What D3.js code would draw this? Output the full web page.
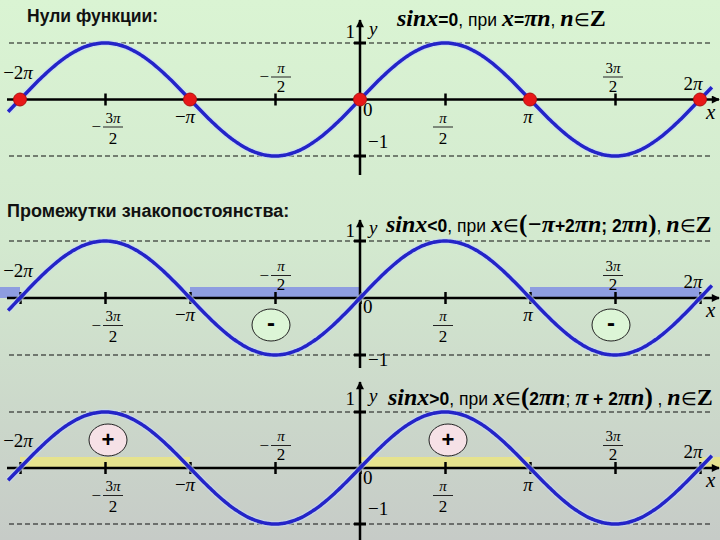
<!DOCTYPE html>
<html>
<head>
<meta charset="utf-8">
<script src="https://cdn.jsdelivr.net/npm/d3@7"></script>
<style>
body { margin: 0; }
svg { display: block; }
</style>
</head>
<body>
<div id="chart"></div>
<script>
var PI = Math.PI

// all x values are in units of pi
var tickValues = [-2, -1.5, -1, -0.5, 0, 0.5, 1, 1.5, 2]
var tickLabels = ["−2π", "−3π/2", "−π", "−π/2", "0", "π/2", "π", "3π/2", "2π"]
var zeros = [-2, -1, 0, 1, 2]
var negIntervals = [[-3, -2], [-1, 0], [1, 2]]
var posIntervals = [[-2, -1], [0, 1], [2, 3]]
var minusAt = [-0.5, 1.5]
var plusAt = [-1.5, 0.5]
var curveDomain = [-2.07, 2.07]
var titles = ["Нули функции:", "Промежутки знакопостоянства:", ""]

// formula pieces: [text, style]
var formula1 = [["sinx", "mi"], ["=0", "b"], [", при ", "s"], ["x", "mi"], ["=", "b"], ["πn", "mi"], [", ", "s"], ["n", "mi"], ["∈", "s"], ["Z", "mb"]]
var formula2 = [["sinx", "mi"], ["<0", "b"], [", при ", "s"], ["x", "mi"], ["∈", "s"], ["(", "p"], ["−π", "mi"], ["+2", "b"], ["πn", "mi"], ["; 2", "b"], ["πn", "mi"], [")", "p"], [", ", "s"], ["n", "mi"], ["∈", "s"], ["Z", "mb"]]
var formula3 = [["sinx", "mi"], [">0", "b"], [", при ", "s"], ["x", "mi"], ["∈", "s"], ["(", "p"], ["2", "b"], ["πn", "mi"], ["; ", "s"], ["π", "mi"], [" + 2", "b"], ["πn", "mi"], [")", "p"], [" , ", "s"], ["n", "mi"], ["∈", "s"], ["Z", "mb"]]

var width = 720, height = 540
var serif = "'Liberation Serif', 'Times New Roman', serif"
var sans = "'Liberation Sans', Arial, sans-serif"

var svg = d3.select("#chart").append("svg")
    .attr("width", width)
    .attr("height", height)

var defs = svg.append("defs")
var grad = defs.append("linearGradient").attr("id", "bg")
    .attr("x1", 0).attr("y1", 0).attr("x2", 0).attr("y2", 1)
grad.append("stop").attr("offset", "0%").attr("stop-color", "#daf4d3")
grad.append("stop").attr("offset", "45%").attr("stop-color", "#d3e9cf")
grad.append("stop").attr("offset", "100%").attr("stop-color", "#c6cbc7")

defs.append("marker").attr("id", "arrow")
    .attr("viewBox", "0 0 10 10").attr("refX", 9).attr("refY", 5)
    .attr("markerWidth", 10).attr("markerHeight", 8)
    .attr("markerUnits", "userSpaceOnUse")
    .attr("orient", "auto")
    .append("path").attr("d", "M0,0L10,5L0,10z").attr("fill", "#000")

svg.append("rect").attr("width", width).attr("height", height).attr("fill", "url(#bg)")

var x = d3.scaleLinear().domain([-2, 2]).range([20, 700])

var panels = [
    { y0: 99.5, amp: 56.5, yTop: 20, yBottom: 175, oneY: 38, zeroY: 116, mOneY: 148, formula: formula1, fx: 397, fy: 26, bands: null, title: { x: 27, y: 22, size: 17.5 } },
    { y0: 298, amp: 57, yTop: 220, yBottom: 368, oneY: 237, zeroY: 313, mOneY: 366, formula: formula2, fx: 386, fy: 232, bands: { list: negIntervals, color: "#8e9de0" }, signs: { at: minusAt, text: "-", fill: "#dcf5d6", dy: 27 }, title: { x: 7, y: 217, size: 18 } },
    { y0: 468, amp: 56, yTop: 382, yBottom: 540, oneY: 405, zeroY: 484, mOneY: 515, formula: formula3, fx: 388, fy: 405, bands: { list: posIntervals, color: "#e6e38e" }, signs: { at: plusAt, text: "+", fill: "#f6e1e6", dy: -28 }, title: null }
]

var line = d3.line()
    .x(function(d) { return x(d) })
    .curve(d3.curveBasis)

var samples = d3.range(curveDomain[0], curveDomain[1] + 0.0001, 0.01)

panels.forEach(function(p, i) {
    var y = d3.scaleLinear().domain([-1, 1]).range([p.y0 + p.amp, p.y0 - p.amp])
    var g = svg.append("g")

    // sign bands
    if (p.bands) {
        g.selectAll("rect.band").data(p.bands.list).enter().append("rect")
            .attr("class", "band")
            .attr("x", function(d) { return Math.max(0, x(d[0])) })
            .attr("width", function(d) { return Math.min(width, x(d[1])) - Math.max(0, x(d[0])) })
            .attr("y", p.y0 - 11)
            .attr("height", 11)
            .attr("fill", p.bands.color)
    }

    // dashed lines at 1 and -1
    g.selectAll("line.dash").data([1, -1]).enter().append("line")
        .attr("x1", 9).attr("x2", 711)
        .attr("y1", function(d) { return y(d) }).attr("y2", function(d) { return y(d) })
        .attr("stroke", "#111").attr("stroke-width", 1.2)
        .attr("stroke-dasharray", "5,3")

    // x axis line
    g.append("line")
        .attr("x1", 7).attr("x2", 719)
        .attr("y1", p.y0).attr("y2", p.y0)
        .attr("stroke", "#000").attr("stroke-width", 2.5)
        .attr("marker-end", "url(#arrow)")

    var axis = g.append("g")
        .attr("transform", "translate(0," + (p.y0 - 6) + ")")
        .call(d3.axisBottom(x).tickValues(tickValues).tickSize(12).tickFormat(""))
    axis.select(".domain").remove()
    axis.selectAll(".tick line").attr("stroke", "#000").attr("stroke-width", 2.5)

    // y axis
    g.append("line")
        .attr("x1", x(0)).attr("x2", x(0))
        .attr("y1", p.yBottom).attr("y2", p.yTop)
        .attr("stroke", "#000").attr("stroke-width", 2.5)
        .attr("marker-end", "url(#arrow)")
    g.selectAll("line.ytick").data([1, -1]).enter().append("line")
        .attr("x1", x(0) - 6).attr("x2", x(0) + 6)
        .attr("y1", function(d) { return y(d) }).attr("y2", function(d) { return y(d) })
        .attr("stroke", "#000").attr("stroke-width", 3)

    // sine curve
    g.append("path")
        .datum(samples)
        .attr("d", line.y(function(d) { return y(Math.sin(d * PI)) }))
        .attr("fill", "none")
        .attr("stroke", "#c8d8f8").attr("stroke-width", 6).attr("stroke-opacity", 0.6)
    g.append("path")
        .datum(samples)
        .attr("d", line.y(function(d) { return y(Math.sin(d * PI)) }))
        .attr("fill", "none")
        .attr("stroke", "#2424c8").attr("stroke-width", 3.5)

    // zeros
    if (i === 0) {
        g.selectAll("circle.zero").data(zeros).enter().append("circle")
            .attr("cx", function(d) { return x(d) })
            .attr("cy", p.y0)
            .attr("r", 6.5)
            .attr("fill", "#e81818")
            .attr("stroke", "#b01010").attr("stroke-width", 1)
    }

    // sign markers
    if (p.signs) {
        var s = g.selectAll("g.sign").data(p.signs.at).enter().append("g")
            .attr("transform", function(d) { return "translate(" + (x(d) + (p.signs.text === "+" ? 3 : -4)) + "," + (p.y0 + p.signs.dy) + ")" })
        s.append("ellipse").attr("rx", 19).attr("ry", 16)
            .attr("fill", p.signs.fill).attr("stroke", "#222").attr("stroke-width", 1)
        s.append("text").text(p.signs.text)
            .attr("text-anchor", "middle").attr("dy", p.signs.text === "+" ? 7 : 6)
            .attr("font-family", sans).attr("font-weight", "bold")
            .attr("font-size", p.signs.text === "+" ? 22 : 24)
    }

    // tick labels
    tickLabels.forEach(function(lbl, k) {
        var v = tickValues[k]
        var tx = x(v)
        if (lbl === "0") {
            g.append("text").attr("x", tx + 3).attr("y", p.zeroY)
                .attr("font-family", serif).attr("font-size", 19).text("0")
            return
        }
        var neg = lbl.charAt(0) === "−"
        var body = neg ? lbl.slice(1) : lbl
        var isFrac = body.indexOf("/") >= 0
        var above = (v === -0.5 || v === 1.5 || Math.abs(v) === 2)
        if (!isFrac) {
            var t = g.append("text")
                .attr("x", tx + (v === 2 ? -7 : v === -2 ? -2 : v === -1 ? -5 : -2))
                .attr("y", above ? p.y0 - (v === 2 ? 10 : 21) : p.y0 + 23)
                .attr("text-anchor", "middle")
                .attr("font-family", serif).attr("font-size", 19)
            if (neg) t.append("tspan").text("−")
            var num = body.replace("π", "")
            if (num) t.append("tspan").text(num)
            t.append("tspan").attr("font-style", "italic").text("π")
        } else {
            var parts = body.split("/")
            var cx = tx + (v === -1.5 ? 8 : v === -0.5 ? 6 : -2)
            var nb = above ? p.y0 - 27 : p.y0 + 23
            var bar = above ? p.y0 - 22.5 : p.y0 + 27.5
            var db = above ? p.y0 - 8 : p.y0 + 44
            var nt = g.append("text").attr("x", cx).attr("y", nb)
                .attr("text-anchor", "middle").attr("font-family", serif).attr("font-size", 15)
            var coef = parts[0].replace("π", "")
            if (coef) nt.append("tspan").text(coef)
            nt.append("tspan").attr("font-style", "italic").text("π")
            g.append("line").attr("x1", cx - 10).attr("x2", cx + 10)
                .attr("y1", bar).attr("y2", bar)
                .attr("stroke", "#222").attr("stroke-width", 1)
            g.append("text").attr("x", cx).attr("y", db)
                .attr("text-anchor", "middle").attr("font-family", serif).attr("font-size", 17)
                .text(parts[1])
            if (neg) {
                g.append("text").attr("x", cx - 12).attr("y", bar + 5)
                    .attr("text-anchor", "end").attr("font-family", serif).attr("font-size", 17)
                    .text("−")
            }
        }
    })

    // axis names
    g.append("text").attr("x", 706).attr("y", p.y0 + 19)
        .attr("font-family", serif).attr("font-style", "italic").attr("font-size", 21).text("x")
    g.append("text").attr("x", 369).attr("y", p.oneY - 3)
        .attr("font-family", serif).attr("font-style", "italic").attr("font-size", 19).text("y")
    g.append("text").attr("x", 355).attr("y", p.oneY)
        .attr("text-anchor", "end")
        .attr("font-family", serif).attr("font-size", 19).text("1")
    g.append("text").attr("x", 368).attr("y", p.mOneY)
        .attr("font-family", serif).attr("font-size", 19).text("−1")

    // formula
    var f = g.append("text").attr("x", p.fx).attr("y", p.fy)
    p.formula.forEach(function(seg) {
        var ts = f.append("tspan").text(seg[0])
        if (seg[1] === "mi" || seg[1] === "mb") {
            ts.attr("font-family", serif).attr("font-weight", "bold")
                .attr("font-style", seg[1] === "mi" ? "italic" : "normal")
                .attr("font-size", 24)
        } else if (seg[1] === "p") {
            ts.attr("font-family", serif).attr("font-weight", "bold").attr("font-size", 25)
        } else {
            ts.attr("font-family", sans).attr("font-weight", seg[1] === "b" ? "bold" : "normal")
                .attr("font-size", 17.5)
        }
    })

    // title
    if (p.title) {
        g.append("text").attr("x", p.title.x).attr("y", p.title.y)
            .attr("font-family", sans).attr("font-weight", "bold")
            .attr("font-size", p.title.size).attr("fill", "#111")
            .text(titles[i])
    }
})
</script>
</body>
</html>
